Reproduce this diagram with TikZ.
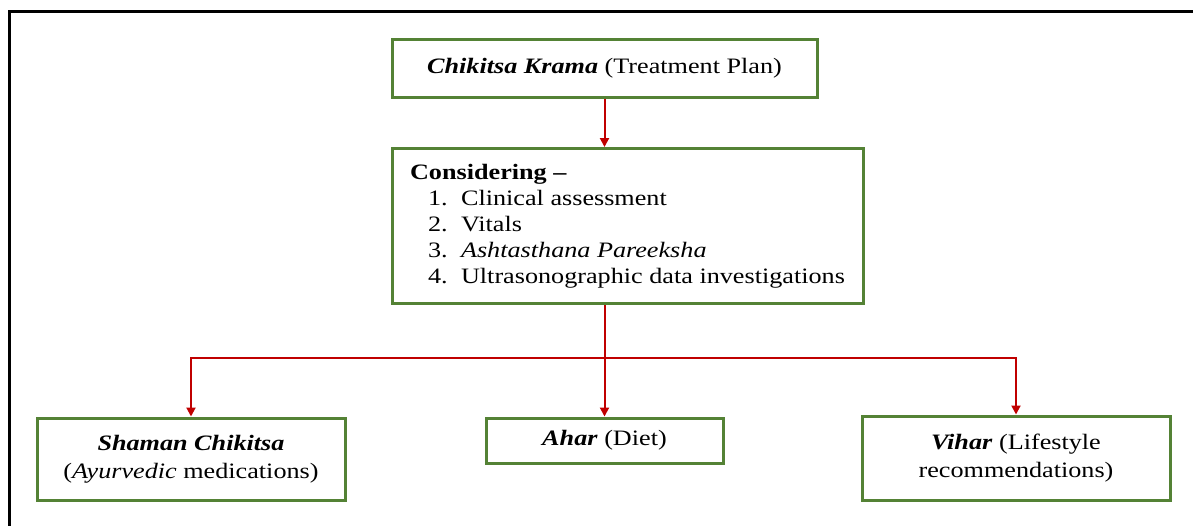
\documentclass[tikz,border=0pt]{standalone}
\usepackage{fontspec}
\setmainfont[FakeStretch=1.19]{Liberation Serif}
\usetikzlibrary{arrows.meta}
\definecolor{boxgreen}{HTML}{548235}
\definecolor{arrred}{HTML}{C00000}
\begin{document}
\begin{tikzpicture}[x=1pt,y=-1pt,
  box/.style={draw=boxgreen, line width=3pt, fill=white, inner sep=0pt, align=center, font=\fontsize{22}{28}\selectfont},
  conn/.style={draw=arrred, line width=2pt, -{Triangle[length=9pt,width=9pt]}},
  frame/.style={draw=black, line width=3pt}
]
\useasboundingbox (0,0) rectangle (1193,525);
\draw[frame] (9.5,540) |- (1210,11);

\node[box, minimum width=425pt, minimum height=58pt] (plan) at (604.5,68)
  {\textbf{\textit{Chikitsa Krama}} (Treatment Plan)};

\node[box, minimum width=471pt, minimum height=155pt, align=left, font=\fontsize{22}{26}\selectfont] (cons) at (627.5,226)
  {\textbf{Considering –}\\
   \hspace*{18pt}\makebox[33pt][l]{1.}Clinical assessment\\
   \hspace*{18pt}\makebox[33pt][l]{2.}Vitals\\
   \hspace*{18pt}\makebox[33pt][l]{3.}\textit{Ashtasthana Pareeksha}\\
   \hspace*{18pt}\makebox[33pt][l]{4.}Ultrasonographic data investigations};

\node[box, minimum width=308pt, minimum height=82pt] (sham) at (191,459)
  {\textbf{\textit{Shaman Chikitsa}}\\(\textit{Ayurvedic} medications)};

\node[box, minimum width=237pt, minimum height=45pt] (ahar) at (604.5,440.5)
  {\textbf{\textit{Ahar}} (Diet)};

\node[box, minimum width=308pt, minimum height=84pt] (vihar) at (1016,458)
  {\textbf{\textit{Vihar}} (Lifestyle\\recommendations)};

\coordinate (jn) at (604.5,358);
\draw[conn] (plan.south) -- (plan.south |- cons.north);
\draw[conn] (plan.south |- cons.south) -- (ahar.north);
\draw[conn] (jn) -| (sham.north);
\draw[conn] (jn) -| (vihar.north);
\end{tikzpicture}
\end{document}
